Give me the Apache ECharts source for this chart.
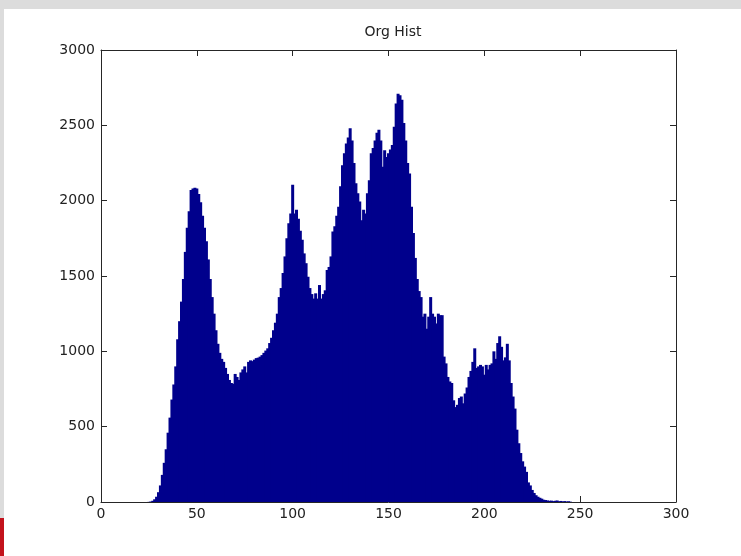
<!DOCTYPE html>
<html>
<head>
<meta charset="utf-8">
<title>Org Hist</title>
<script src="https://cdn.jsdelivr.net/npm/echarts@6/dist/echarts.min.js"></script>
<style>
  html, body { margin: 0; padding: 0; background: #fff; }
  #chart { width: 741px; height: 556px; }
</style>
</head>
<body>
<div id="chart"></div>
<script>
// grey level histogram, 256 bins (0..255)
const counts = [
  0, 0, 0, 0, 0, 0, 0, 0, 0, 0,
  0, 0, 0, 0, 0, 0, 0, 0, 0, 0,
  0, 0, 0, 0, 0, 1, 3, 8, 18, 35,
  65, 110, 180, 260, 350, 460, 560, 680, 780, 900,
  1080, 1200, 1330, 1480, 1660, 1820, 1930, 2070, 2080, 2085,
  2080, 2045, 1990, 1900, 1820, 1730, 1610, 1480, 1360, 1250,
  1140, 1050, 990, 950, 930, 890, 850, 810, 790, 785,
  850, 830, 810, 860, 880, 900, 860, 930, 940, 935,
  945, 955, 958, 965, 975, 990, 1005, 1020, 1055, 1090,
  1140, 1190, 1250, 1360, 1420, 1520, 1630, 1750, 1850, 1915,
  2105, 1915, 1940, 1880, 1800, 1740, 1650, 1585, 1495, 1420,
  1380, 1350, 1385, 1350, 1440, 1350, 1380, 1405, 1540, 1560,
  1630, 1795, 1830, 1900, 1960, 2095, 2235, 2315, 2380, 2420,
  2480, 2400, 2250, 2115, 2050, 1995, 1870, 1940, 1915, 2050,
  2135, 2315, 2350, 2400, 2450, 2470, 2400, 2225, 2335, 2290,
  2315, 2340, 2370, 2490, 2645, 2710, 2700, 2670, 2515, 2400,
  2250, 2180, 1960, 1785, 1620, 1480, 1400, 1360, 1230, 1250,
  1150, 1230, 1360, 1250, 1230, 1185, 1250, 1240, 1240, 965,
  920, 830, 800, 790, 675, 630, 645, 690, 700, 655,
  720, 760, 830, 870, 930, 1020, 890, 900, 910, 900,
  845, 910, 880, 910, 920, 1000, 950, 1055, 1100, 1030,
  940, 960, 1050, 940, 790, 700, 620, 480, 390, 325,
  270, 235, 200, 130, 110, 80, 60, 45, 35, 28,
  22, 15, 13, 10, 8, 9, 6, 8, 10, 5,
  7, 4, 6, 3, 5, 2, 0, 0, 0, 0,
  0, 0, 0, 0, 0, 0
]
const levels = counts.map((_, i) => i)
const xTicks = [0, 50, 100, 150, 200, 250, 300]
const yTicks = [0, 500, 1000, 1500, 2000, 2500, 3000]

const chart = echarts.init(document.getElementById('chart'))

const font = 'DejaVu Sans'
const lineColor = '#262626'
const barColor = '#00008c'

function boxAxis(extra) {
  return Object.assign({
    type: 'value',
    axisLine: { show: true, onZero: false, lineStyle: { color: lineColor, width: 1 } },
    axisTick: { show: true, inside: true, length: 6, lineStyle: { color: lineColor } },
    splitLine: { show: false }
  }, extra)
}

// empty bins are left out so nothing is drawn along the baseline
const histData = levels
  .map((lv, i) => [lv, counts[i]])
  .filter((d) => d[1] > 0)

chart.setOption({
  animation: false,
  backgroundColor: '#fff',
  title: {
    text: 'Org Hist',
    left: 388,
    textAlign: 'center',
    top: 20,
    textStyle: { fontFamily: font, fontSize: 14, fontWeight: 'normal', color: '#222' }
  },
  grid: { left: 101, right: 65, top: 50, bottom: 54 },
  xAxis: [
    boxAxis({
      min: xTicks[0], max: xTicks[xTicks.length - 1], interval: 50,
      axisLabel: { color: '#222', fontFamily: font, fontSize: 14, margin: 5 }
    }),
    boxAxis({
      position: 'top',
      min: xTicks[0], max: xTicks[xTicks.length - 1], interval: 50,
      axisLabel: { show: false }
    })
  ],
  yAxis: [
    boxAxis({
      min: yTicks[0], max: yTicks[yTicks.length - 1], interval: 500,
      axisLabel: { color: '#222', fontFamily: font, fontSize: 14, margin: 6, formatter: (v) => String(v) }
    }),
    boxAxis({
      position: 'right',
      min: yTicks[0], max: yTicks[yTicks.length - 1], interval: 500,
      axisLabel: { show: false }
    })
  ],
  graphic: [
    { type: 'rect', left: 0, top: 0, shape: { width: 741, height: 9 }, style: { fill: '#dcdcdc' }, silent: true },
    { type: 'rect', left: 0, top: 0, shape: { width: 4, height: 518 }, style: { fill: '#dcdcdc' }, silent: true },
    { type: 'rect', left: 0, top: 518, shape: { width: 4, height: 38 }, style: { fill: '#c3121c' }, silent: true }
  ],
  series: [
    {
      type: 'bar',
      xAxisIndex: 0,
      yAxisIndex: 0,
      barWidth: 3,
      data: histData,
      itemStyle: { color: barColor },
      z: 1
    }
  ]
})
</script>
</body>
</html>
